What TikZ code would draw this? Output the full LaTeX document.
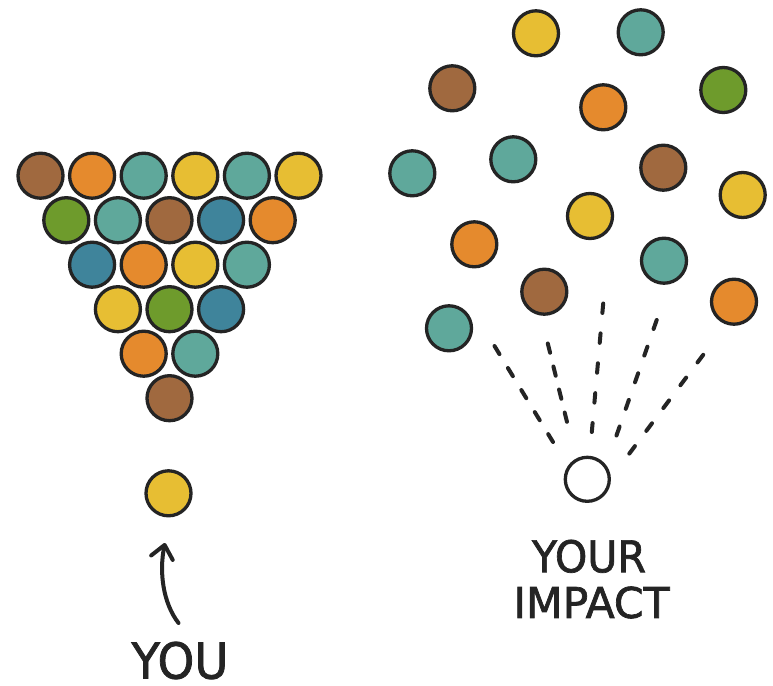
\documentclass[tikz,border=0pt]{standalone}
\usepackage{fontspec}
\usepackage{graphicx}
\setmainfont{DejaVu Sans}
\newfontfamily\hand[FakeBold=1.6]{DejaVu Sans}
\usetikzlibrary{arrows.meta}
\definecolor{ink}{HTML}{242424}
\definecolor{cbrown}{HTML}{A0693F}
\definecolor{corange}{HTML}{E58A2D}
\definecolor{cteal}{HTML}{5FA89B}
\definecolor{cyellow}{HTML}{E7BE33}
\definecolor{cgreen}{HTML}{6E9B2C}
\definecolor{cblue}{HTML}{3F849B}
\tikzset{
  ball/.style={circle, draw=ink, line width=3.3pt, minimum size=45pt, inner sep=0pt},
  hollow/.style={circle, draw=ink, line width=3.3pt, minimum size=44pt, inner sep=0pt, fill=white},
  raydash/.style={draw=ink, line width=4pt, line cap=round},
  txt/.style={text=ink, inner sep=0pt, anchor=center, font=\hand},
  upper/.style={draw=ink, line width=4pt, line cap=round, -{Straight Barb[round, length=13pt, width=22pt]}}
}
\begin{document}
\begin{tikzpicture}[x=1pt,y=-1pt]
\useasboundingbox[fill=white] (0,0) rectangle (773,685);
% ---- triangle of balls ----
\foreach \k/\row in {0/{cbrown,corange,cteal,cyellow,cteal,cyellow},
                     1/{cgreen,cteal,cbrown,cblue,corange},
                     2/{cblue,corange,cyellow,cteal},
                     3/{cyellow,cgreen,cblue},
                     4/{corange,cteal},
                     5/{cbrown}}{
  \foreach \c [count=\j from 0] in \row {
    \node[ball, fill=\c] (t\k\j) at ({40.5+25.8*\k+51.6*\j},{175.7+44.5*\k}) {};
  }
}
% ---- you ----
\node[ball, fill=cyellow] (me) at (168.5,493.3) {};
\coordinate (atail) at (178.5,623);
\coordinate (ahead) at (165,543);
\draw[upper] (atail) .. controls (163,603) and (159,572) .. (ahead);
\node[txt] (youtxt) at (180,660.5) {\resizebox*{97pt}{37.5pt}{YOU}};
% ---- scattered balls ----
\foreach \x/\y/\c [count=\i] in {
  536/33.3/cyellow, 640.7/32.3/cteal, 452.3/88.3/cbrown, 603.3/107.3/corange,
  723.3/90/cgreen, 412.3/173.3/cteal, 513.3/159.3/cteal, 663.3/167.7/cbrown,
  742.7/195/cyellow, 590/216/cyellow, 474.3/244.3/corange, 664/260.7/cteal,
  544.3/291.7/cbrown, 734/301.7/corange, 449/328.3/cteal}{
  \node[ball, fill=\c] (s\i) at (\x,\y) {};
}
% ---- impact ----
\node[hollow] (imp) at (587.3,479.3) {};
\coordinate (r1a) at (494.5,346); \coordinate (r1b) at (553,442);
\coordinate (r2a) at (547.8,343.5); \coordinate (r2b) at (567,422);
\coordinate (r3a) at (603.2,303.5); \coordinate (r3b) at (591.8,432);
\coordinate (r4a) at (656.7,320); \coordinate (r4b) at (616.3,436);
\coordinate (r5a) at (703.2,354.8); \coordinate (r5b) at (629.3,453.6);
\draw[raydash, dash pattern=on 9.5pt off 16.3pt] (r1a) -- (r1b);
\draw[raydash, dash pattern=on 9.5pt off 14.2pt] (r2a) -- (r2b);
\draw[raydash, dash pattern=on 9.5pt off 20.5pt] (r3a) -- (r3b);
\draw[raydash, dash pattern=on 9.5pt off 18.7pt] (r4a) -- (r4b);
\draw[raydash, dash pattern=on 9.5pt off 19pt] (r5a) -- (r5b);
\node[txt] (yourtxt) at (589,556.3) {\resizebox*{114pt}{33pt}{YOUR}};
\node[txt] (impacttxt) at (591.5,602.5) {\resizebox*{156pt}{32pt}{IMPACT}};
\end{tikzpicture}
\end{document}
